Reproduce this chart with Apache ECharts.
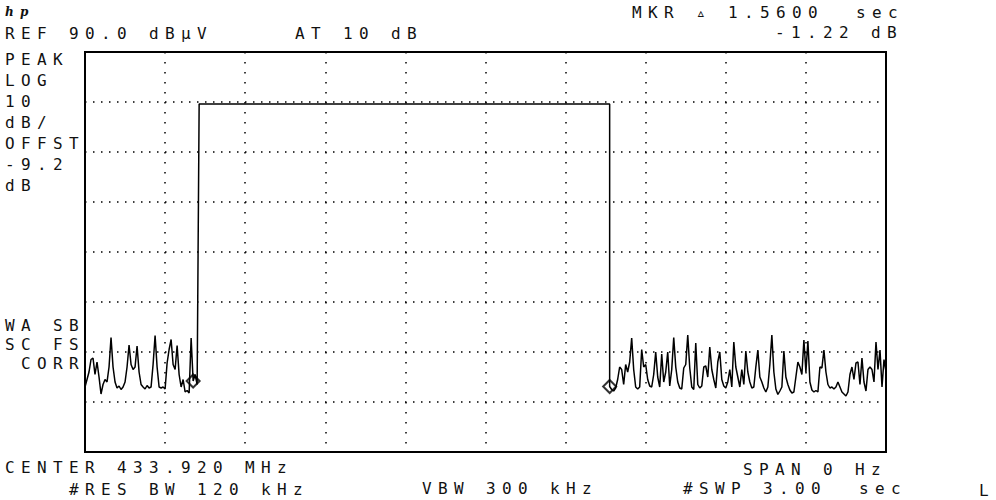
<!DOCTYPE html>
<html>
<head>
<meta charset="utf-8">
<script src="https://cdn.jsdelivr.net/npm/echarts@6/dist/echarts.min.js"></script>
<style>
  html, body { margin: 0; padding: 0; background: #fff; }
  #chart { width: 996px; height: 500px; }
  #chart text { letter-spacing: 6.37px; white-space: pre; }
</style>
</head>
<body>
<div id="chart"></div>
<script>
// ---- data ----
const sweepTime = 3.0;          // seconds across the screen (#SWP 3.00 sec)
const sweepPoints = 401;        // trace points per sweep
const refLevel = 90;            // dBuV, top of screen
const dbPerDiv = 10;
const yDivs = 8;
const xDivs = 10;

// trace before the burst, points 0..56 (dBuV)
const noiseBefore = [
  23.0, 24.5, 26.0, 28.5, 28.8, 25.5, 28.0, 25.0, 21.6, 23.5,
  24.5, 24.0, 27.0, 32.9, 27.0, 24.0, 22.8, 23.2, 22.5, 23.0,
  24.0, 27.0, 31.4, 27.5, 26.5, 27.0, 31.2, 26.0, 23.5, 23.0,
  22.6, 23.3, 22.8, 23.0, 27.5, 33.3, 27.0, 23.0, 22.8, 23.0,
  22.6, 27.8, 30.5, 32.5, 27.5, 26.5, 31.3, 25.5, 23.0, 24.5,
  22.0, 22.3, 21.8, 32.8, 24.2, 25.5, 23.5
];
// burst (carrier on): start / end time in s and level in dBuV
const pulseTimes = [0.4275, 1.965];
const pulseLevel = 79.6;
// trace after the burst, points 262..400 (dBuV)
const afterStartPoint = 262;
const noiseAfter = [
  23.1, 22.5, 22.2, 22.8, 24.5, 27.0, 26.5, 23.5, 27.5, 26.0,
  28.0, 32.8, 26.5, 23.0, 22.6, 23.0, 30.5, 27.0, 27.5, 24.5,
  23.2, 23.0, 25.5, 30.0, 25.0, 23.0, 29.6, 24.0, 26.0, 30.0,
  23.2, 26.5, 32.9, 27.0, 24.0, 22.8, 22.6, 26.8, 27.5, 33.4,
  26.8, 23.0, 22.5, 31.8, 23.5, 22.8, 23.2, 27.0, 27.2, 25.0,
  31.0, 26.5, 24.5, 22.8, 28.0, 30.0, 24.5, 23.2, 22.8, 24.0,
  26.5, 23.0, 32.0, 27.0, 25.0, 23.0, 26.5, 23.5, 30.2, 26.0,
  24.0, 22.8, 23.0, 27.0, 30.4, 25.0, 24.0, 22.8, 22.0, 23.0,
  27.5, 33.4, 26.0, 22.6, 21.5, 22.2, 23.0, 30.2, 25.0, 23.5,
  22.4, 21.8, 22.0, 25.0, 28.0, 27.0, 25.5, 32.4, 26.0, 32.2,
  24.0, 22.4, 22.0, 22.3, 22.0, 27.0, 26.8, 30.4, 26.0, 23.5,
  22.8, 23.0, 22.6, 23.0, 24.0, 23.0, 22.0, 21.6, 21.2, 22.0,
  25.5, 27.0, 24.5, 27.8, 28.0, 23.5, 28.8, 24.0, 22.2, 26.5,
  27.0, 26.5, 24.0, 32.0, 26.5, 30.4, 23.0, 28.5, 26.0
];
// markers (trace point index)
const markerPoints = [54, 262];

// ---- text ----
const headerTexts = [
  {t: 'REF 90.0 dBµV', x: 5, y: 33},
  {t: 'AT 10 dB', x: 295, y: 33},
  {t: 'MKR ▵ 1.5600  sec', x: 632, y: 12},
  {t: '-1.22 dB', x: 775, y: 32}
];
const sideTexts = [
  {t: 'PEAK', x: 5, y: 59},
  {t: 'LOG', x: 5, y: 80},
  {t: '10', x: 5, y: 101},
  {t: 'dB/', x: 5, y: 122},
  {t: 'OFFST', x: 5, y: 143},
  {t: '-9.2', x: 5, y: 164},
  {t: 'dB', x: 5, y: 185},
  {t: 'WA SB', x: 5, y: 325},
  {t: 'SC FS', x: 5, y: 344},
  {t: ' CORR', x: 5, y: 363}
];
const footerTexts = [
  {t: 'CENTER 433.920 MHz', x: 5, y: 467},
  {t: '#RES BW 120 kHz', x: 69, y: 489},
  {t: 'VBW 300 kHz', x: 422, y: 488},
  {t: 'SPAN 0 Hz', x: 743, y: 469},
  {t: '#SWP 3.00  sec', x: 683, y: 488},
  {t: 'L', x: 979, y: 490}
];

// ---- build ----
const dt = sweepTime / (sweepPoints - 1);
const trace = [];
noiseBefore.forEach((v, i) => trace.push([i * dt, v]));
trace.push([pulseTimes[0], pulseLevel]);
trace.push([pulseTimes[1], pulseLevel]);
noiseAfter.forEach((v, i) => trace.push([(afterStartPoint + i) * dt, v]));

function valueAt(p) {
  if (p < noiseBefore.length) return noiseBefore[p];
  return noiseAfter[p - afterStartPoint];
}
const markers = markerPoints.map(p => [p * dt, valueAt(p)]);

const FONT = '16px "DejaVu Sans Mono", "Liberation Mono", monospace';
function txt(o) {
  return {
    type: 'text', x: o.x, y: o.y, silent: true,
    style: { text: o.t, font: FONT, fill: '#111', align: 'left', verticalAlign: 'middle',
             textAlign: 'left', textVerticalAlign: 'middle' }
  };
}
const graphics = [].concat(headerTexts, sideTexts, footerTexts).map(txt);
graphics.push({
  type: 'text', x: 5, y: 12, silent: true,
  style: { text: 'hp', font: 'italic bold 12px "DejaVu Serif", serif', fill: '#111',
           align: 'left', verticalAlign: 'middle', textAlign: 'left', textVerticalAlign: 'middle' }
});

const chart = echarts.init(document.getElementById('chart'), null, {renderer: 'svg', width: 996, height: 500});
chart.setOption({
  animation: false,
  backgroundColor: '#fff',
  grid: { left: 85, top: 52, width: 801, height: 400, show: true, borderColor: '#000', borderWidth: 2,
          backgroundColor: 'transparent', containLabel: false },
  xAxis: {
    type: 'value', min: 0, max: sweepTime, interval: sweepTime / xDivs,
    axisLine: {show: false}, axisTick: {show: false}, axisLabel: {show: false},
    splitLine: { show: true, lineStyle: { color: '#000', width: 1.5, type: [1.5, 8.5], dashOffset: 0 } }
  },
  yAxis: {
    type: 'value', min: refLevel - dbPerDiv * yDivs, max: refLevel, interval: dbPerDiv,
    axisLine: {show: false}, axisTick: {show: false}, axisLabel: {show: false},
    splitLine: { show: true, lineStyle: { color: '#000', width: 1.5, type: [1.5, 6.5], dashOffset: 0 } }
  },
  series: [
    {
      type: 'line', data: trace, showSymbol: false, symbol: 'none',
      lineStyle: { color: '#000', width: 1.5 }, z: 3
    },
    {
      type: 'scatter', data: markers, symbol: 'diamond', symbolSize: [13, 13],
      itemStyle: { color: 'rgba(0,0,0,0)', borderColor: '#000', borderWidth: 2 }, z: 4
    }
  ],
  graphic: graphics
});
</script>
</body>
</html>
